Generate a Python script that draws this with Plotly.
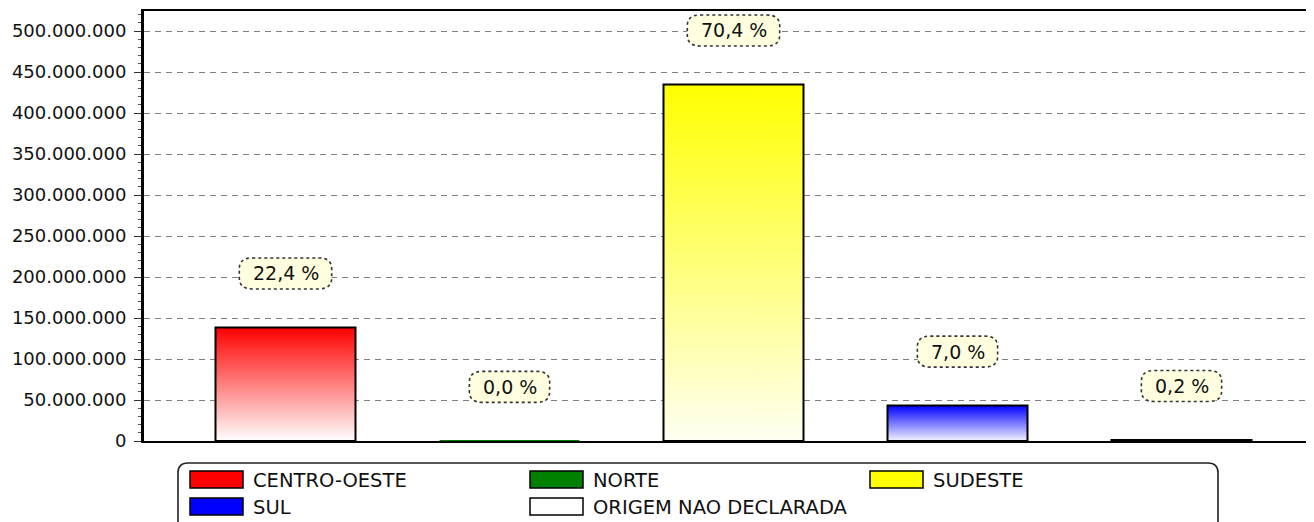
import plotly.graph_objects as go

# ---- data ----
categories = ["CENTRO-OESTE", "NORTE", "SUDESTE", "SUL", "ORIGEM NAO DECLARADA"]
values = [138.5e6, 0.15e6, 434.8e6, 43.2e6, 1.2e6]
pct_labels = ["22,4 %", "0,0 %", "70,4 %", "7,0 %", "0,2 %"]
colors = ["#FF0000", "#008000", "#FFFF00", "#0000FF", "#FFFFFF"]
bottom_colors = ["#FFFFFF", "#008000", "#FFFFF2", "#F4F4FF", "#FFFFFF"]
edge_colors = ["black", "#008000", "black", "black", "black"]
y_ticks = list(range(0, 500_000_001, 50_000_000))

# page body has an 8px margin, so the figure is sized/offset to compensate
W, H = 1306, 514
ML, MT, MB = 136, 3, 81
plot_w = W - ML
cat_step = 224.0
first_center = 277.5
x0 = (ML - first_center) / cat_step
x1 = x0 + plot_w / cat_step
bar_w = 0.625
y_max = 524.4e6

FONT = "DejaVu Sans"
fig = go.Figure()

# bars (gradient filled)
for i, (cat, v) in enumerate(zip(categories, values)):
    xl, xr = i - bar_w / 2, i + bar_w / 2
    fig.add_trace(go.Scatter(
        x=[xl, xr, xr, xl, xl], y=[0, 0, v, v, 0],
        mode="lines", fill="toself", name=cat,
        fillgradient=dict(type="vertical",
                          colorscale=[[0, bottom_colors[i]], [1, colors[i]]]),
        line=dict(color=edge_colors[i], width=2),
        showlegend=False, hoverinfo="name+y"))

# percentage labels with dotted pill boxes
cw = {d: 0.636 for d in "0123456789"}
cw.update({",": 0.318, " ": 0.318, "%": 0.950})
lab_size = 19
off = 54
for i, (v, t) in enumerate(zip(values, pct_labels)):
    tw = sum(cw.get(c, 0.6) for c in t) * lab_size
    bw, bh, r = tw + 26, 31, 13
    L, R = -bw / 2, bw / 2
    B, T = off - bh / 2, off + bh / 2
    path = (f"M{L+r},{T} L{R-r},{T} Q{R},{T} {R},{T-r+2} L{R},{B+r-2} "
            f"Q{R},{B} {R-r},{B} L{L+r},{B} Q{L},{B} {L},{B+r-2} "
            f"L{L},{T-r+2} Q{L},{T} {L+r},{T} Z")
    fig.add_shape(type="path", xref="x", yref="y", xsizemode="pixel",
                  ysizemode="pixel", xanchor=i, yanchor=v, path=path,
                  fillcolor="#FFFFE0", line=dict(color="#333333", width=1.6, dash="dot"),
                  layer="above")
    fig.add_annotation(x=i, y=v, yshift=off, text=t, showarrow=False,
                       xanchor="center", yanchor="middle",
                       font=dict(family=FONT, size=lab_size, color="#111111"))

# custom legend (frame, swatches, names)
lx0, lx1, ltop, lbot, lr = 34, 1074, -22, -95, 10
frame = (f"M{lx0+lr},{ltop} L{lx1-lr},{ltop} Q{lx1},{ltop} {lx1},{ltop-lr} "
         f"L{lx1},{lbot+lr} Q{lx1},{lbot} {lx1-lr},{lbot} L{lx0+lr},{lbot} "
         f"Q{lx0},{lbot} {lx0},{lbot+lr} L{lx0},{ltop-lr} Q{lx0},{ltop} {lx0+lr},{ltop} Z")
fig.add_shape(type="path", xref="paper", yref="paper", xsizemode="pixel",
              ysizemode="pixel", xanchor=0, yanchor=0, path=frame,
              line=dict(color="#222222", width=1.6), fillcolor="rgba(0,0,0,0)")
col_step, row_step = 340, 27
for k, (cat, col) in enumerate(zip(categories, colors)):
    c, rrow = k % 3, k // 3
    sx = 46 + c * col_step
    sy_top = -30 - rrow * row_step
    fig.add_shape(type="rect", xref="paper", yref="paper", xsizemode="pixel",
                  ysizemode="pixel", xanchor=0, yanchor=0,
                  x0=sx, x1=sx + 53, y0=sy_top, y1=sy_top - 17,
                  fillcolor=col, line=dict(color="black", width=1.5))
    fig.add_annotation(xref="paper", yref="paper", x=0, y=0,
                       xshift=sx + 61, yshift=sy_top - 9,
                       xanchor="left", yanchor="middle", showarrow=False,
                       text=cat, font=dict(family=FONT, size=19.5, color="#111111"))

fig.update_layout(
    width=W, height=H,
    margin=dict(l=ML, r=0, t=MT, b=MB, pad=0),
    paper_bgcolor="white", plot_bgcolor="white",
    separators=",.",
    showlegend=False,
    xaxis=dict(range=[x0, x1], showgrid=False, zeroline=False,
               showticklabels=False, ticks="",
               showline=True, linecolor="black", linewidth=2, mirror=True),
    yaxis=dict(range=[0, y_max], tickvals=y_ticks, tickformat=",d",
               showgrid=True, gridcolor="#808080", gridwidth=1, griddash="6px,5px",
               zeroline=False, showline=True, linecolor="black", linewidth=3,
               ticks="outside", ticklen=7, tickcolor="#333333", tickwidth=1,
               ticklabelstandoff=4,
               minor=dict(ticks="outside", ticklen=3, dtick=10_000_000,
                          tickcolor="#555555", showgrid=False),
               tickfont=dict(family=FONT, size=18, color="#111111")),
)

fig.write_html("out.html")
